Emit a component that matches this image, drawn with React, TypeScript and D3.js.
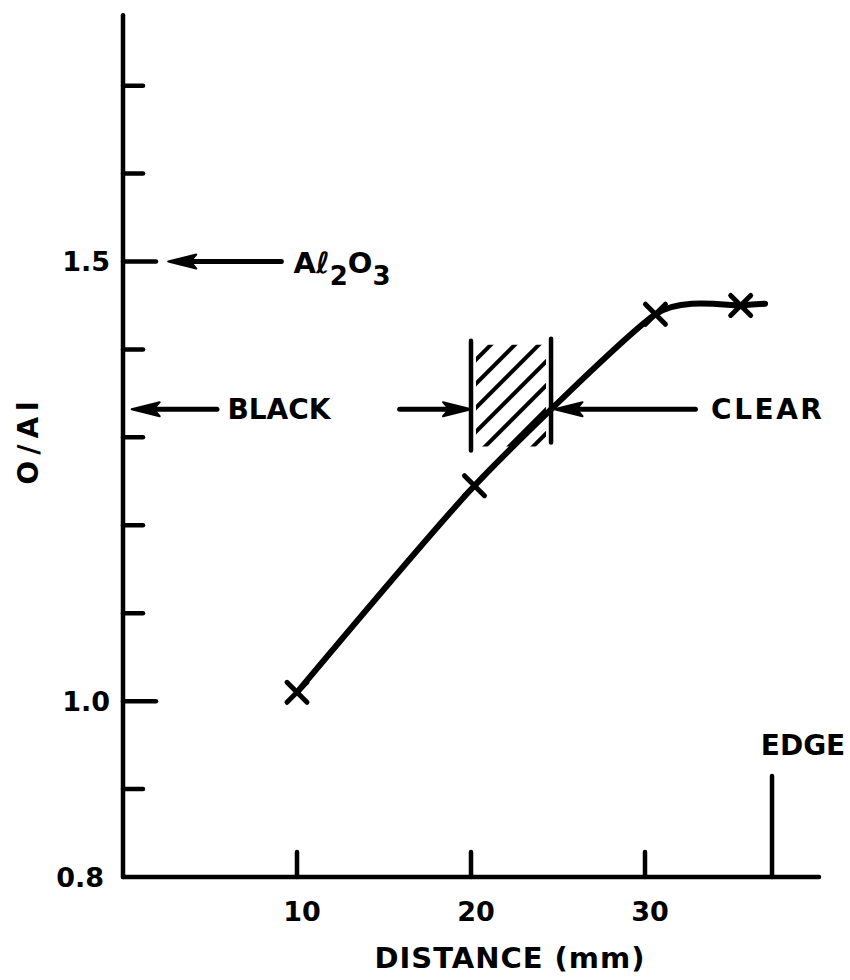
import React from "react";
import * as d3 from "d3";

// measured points (distance in mm, O/Al ratio)
const distance = [10, 20.2, 30.6, 35.5];
const ratio = [1.01, 1.245, 1.44, 1.45];
// the drawn curve runs a little past the last marker
const curveEnd = { x: 36.9, y: 1.452 };

const xTicks = [10, 20, 30];
const yTicks = [0.9, 1.0, 1.1, 1.2, 1.3, 1.4, 1.5, 1.6, 1.7];
const yLabels = [
  { v: 0.8, text: "0.8" },
  { v: 1.0, text: "1.0" },
  { v: 1.5, text: "1.5" },
];

// black / clear boundary band
const band = { x0: 20, x1: 24.6, y0: 1.285, y1: 1.41 };
const edgeX = 37.3;

const W = 850;
const H = 980;
const FONT = "'DejaVu Sans', sans-serif";

const x = d3.scaleLinear().domain([0, 40]).range([123, 819]);
const y = d3.scaleLinear().domain([0.8, 1.5]).range([877, 261.5]);

// filled arrow from -> tip, horizontal only
function Arrow({ from, to, at }: { from: number; to: number; at: number }) {
  const tx = x(to);
  const fx = x(from);
  const yy = y(at);
  const dir = tx > fx ? 1 : -1;
  const len = 28;
  const hw = 7;
  const head = `M${tx},${yy} L${tx - dir * len},${yy - hw} L${tx - dir * (len - 6)},${yy} L${tx - dir * len},${yy + hw} Z`;
  return (
    <g>
      <line x1={fx} x2={tx - dir * 10} y1={yy} y2={yy} stroke="#000" strokeWidth={5} strokeLinecap="round" />
      <path d={head} fill="#000" stroke="#000" strokeWidth={2} strokeLinejoin="round" />
    </g>
  );
}

export default function App() {
  const pts = distance.map((d, i) => [d, ratio[i]] as [number, number]);
  const line = d3
    .line<[number, number]>()
    .x((d) => x(d[0]))
    .y((d) => y(d[1]))
    .curve(d3.curveCardinal.tension(0.4));
  const path = line([...pts, [curveEnd.x, curveEnd.y]]) || "";

  const bx0 = x(band.x0);
  const bx1 = x(band.x1);
  const by0 = y(band.y1);
  const by1 = y(band.y0);
  const hatch: number[] = d3.range(bx0 - (by1 - by0), bx1 + 10, 24);

  const yTop = y(1.78);

  return (
    <svg width={W} height={H} style={{ position: "absolute", left: 0, top: 0, background: "#fff" }}>
      <defs>
        <clipPath id="bandClip">
          <rect x={bx0 + 5} y={by0 + 4} width={bx1 - bx0 - 10} height={by1 - by0 - 8} />
        </clipPath>
      </defs>

      {/* axes */}
      <line x1={x(0)} x2={x(0)} y1={yTop} y2={y(0.8)} stroke="#000" strokeWidth={4.5} strokeLinecap="round" />
      <line x1={x(0)} x2={x(40)} y1={y(0.8)} y2={y(0.8)} stroke="#000" strokeWidth={4.5} strokeLinecap="round" />

      {yTicks.map((t) => (
        <line
          key={t}
          x1={x(0)}
          x2={x(0) + (t === 1.0 || t === 1.5 ? 33 : 20)}
          y1={y(t)}
          y2={y(t)}
          stroke="#000"
          strokeWidth={4.5}
          strokeLinecap="round"
        />
      ))}
      {yLabels.map((l) => (
        <text
          key={l.text}
          x={l.v === 0.8 ? 104 : 110}
          y={y(l.v)}
          dy="0.36em"
          textAnchor="end"
          fontFamily={FONT}
          fontWeight="bold"
          fontSize={27}
        >
          {l.text}
        </text>
      ))}
      {xTicks.map((t) => (
        <g key={t}>
          <line x1={x(t)} x2={x(t)} y1={y(0.8)} y2={y(0.8) - 25} stroke="#000" strokeWidth={4.5} strokeLinecap="round" />
          <text x={x(t) + 5} y={921} textAnchor="middle" fontFamily={FONT} fontWeight="bold" fontSize={27}>
            {t}
          </text>
        </g>
      ))}

      <text x={510} y={968} textAnchor="middle" fontFamily={FONT} fontWeight="bold" fontSize={29} letterSpacing={1}>
        DISTANCE (mm)
      </text>
      <text
        transform={`translate(38, ${440}) rotate(-90)`}
        textAnchor="middle"
        fontFamily={FONT}
        fontWeight="bold"
        fontSize={28}
        letterSpacing={6}
      >
        O/Al
      </text>

      {/* edge marker */}
      <line x1={x(edgeX)} x2={x(edgeX)} y1={y(0.8)} y2={y(0.915)} stroke="#000" strokeWidth={4.5} strokeLinecap="round" />
      <text x={x(edgeX) + 31} y={755} textAnchor="middle" fontFamily={FONT} fontWeight="bold" fontSize={28}>
        EDGE
      </text>

      {/* hatched band */}
      <line x1={bx0} x2={bx0} y1={by0} y2={by1} stroke="#000" strokeWidth={4.5} strokeLinecap="round" />
      <line x1={bx1} x2={bx1} y1={by0 - 2} y2={by1 - 8} stroke="#000" strokeWidth={4.5} strokeLinecap="round" />
      <g clipPath="url(#bandClip)">
        {hatch.map((h) => (
          <line key={h} x1={h} x2={h + (by1 - by0)} y1={by1} y2={by0} stroke="#000" strokeWidth={4} />
        ))}
      </g>

      {/* annotation arrows */}
      <Arrow from={9.1} to={2.6} at={1.5} />
      <Arrow from={5.4} to={0.5} at={1.332} />
      <Arrow from={15.9} to={band.x0} at={1.332} />
      <Arrow from={32.9} to={24.8} at={1.332} />

      <text x={x(6.0)} y={y(1.332)} dy="0.36em" fontFamily={FONT} fontWeight="bold" fontSize={28}>
        BLACK
      </text>
      <text x={x(33.8)} y={y(1.332)} dy="0.36em" fontFamily={FONT} fontWeight="bold" fontSize={28} letterSpacing={2.5}>
        CLEAR
      </text>
      <text x={x(9.8)} y={y(1.5)} dy="0.38em" fontFamily={FONT} fontWeight="bold" fontSize={29}>
        <tspan>A</tspan>
        <tspan fontStyle="italic">ℓ</tspan>
        <tspan dy={12} fontSize={26}>2</tspan>
        <tspan dy={-12}>O</tspan>
        <tspan dy={12} fontSize={26}>3</tspan>
      </text>

      {/* data curve */}
      <path d={path} fill="none" stroke="#000" strokeWidth={6} strokeLinecap="round" strokeLinejoin="round" />
      {pts.map(([d, r], i) => {
        const cx = x(d);
        const cy = y(r);
        const s = 10;
        return (
          <g key={i} stroke="#000" strokeWidth={5} strokeLinecap="round">
            <line x1={cx - s} y1={cy - s} x2={cx + s} y2={cy + s} />
            <line x1={cx - s} y1={cy + s} x2={cx + s} y2={cy - s} />
          </g>
        );
      })}
    </svg>
  );
}
